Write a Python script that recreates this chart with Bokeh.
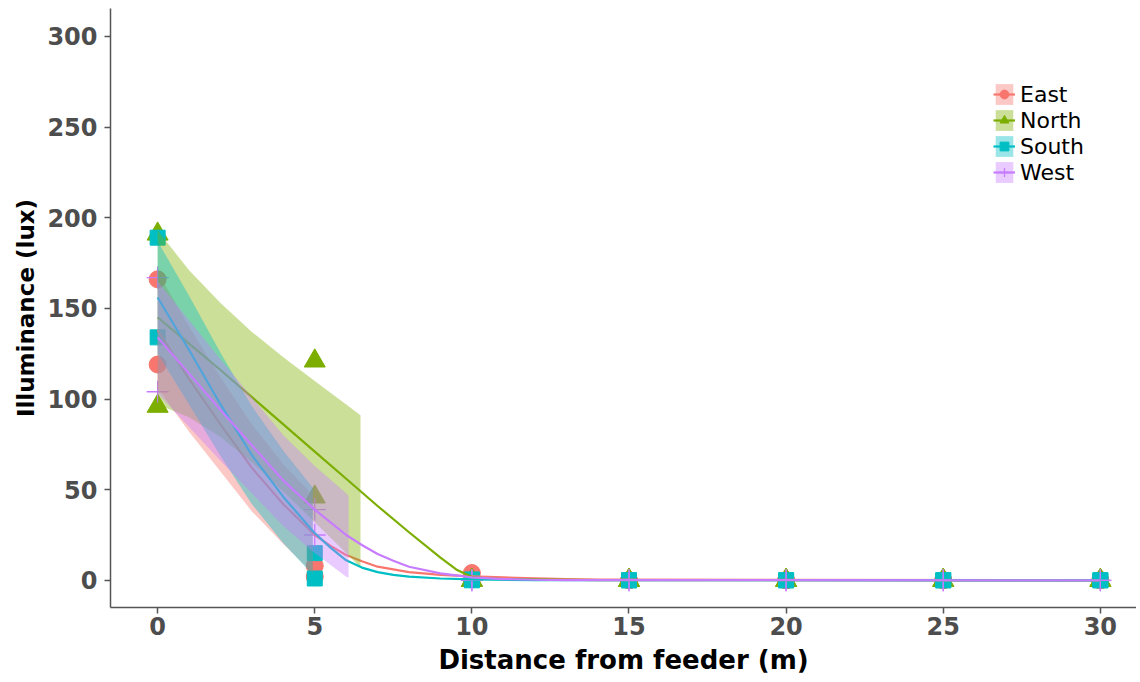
from bokeh.plotting import figure
from bokeh.models import Range1d, FixedTicker, Legend, LegendItem
from bokeh.embed import file_html
from bokeh.resources import INLINE

# ---------------- data ----------------
groups = ["East", "North", "South", "West"]
colors = ["#F8766D", "#7CAE00", "#00BFC4", "#C77CFF"]
markers = ["circle", "triangle", "square", "cross"]

distance = [0, 0, 5, 5, 10, 10, 15, 15, 20, 20, 25, 25, 30, 30]
east_lux = [166, 119, 8, 2, 4, 0.5, 0, 0, 0, 0, 0, 0, 0, 0]
north_lux = [191, 96, 121, 46, 0, 0, 0, 0, 0, 0, 0, 0, 0, 0]
south_lux = [189, 134, 15, 1, 0.5, 0, 0, 0, 0, 0, 0, 0, 0, 0]
west_lux = [167, 104, 39, 25, 0, 0, 0, 0, 0, 0, 0, 0, 0, 0]

# fitted curves
east_fit_x = [0, 1, 2, 3, 4, 5, 5.5, 6, 6.5, 7, 8, 9, 10, 11, 12, 13, 14, 30]
east_fit_y = [138, 111, 86, 62, 42, 25, 19, 14, 10.5, 7.5, 4.5, 3, 2.2, 1.6, 1.1, 0.7, 0.4, 0]
north_fit_x = [0, 1, 2, 3, 4, 5, 6, 7, 8, 9, 9.5, 10, 10.5, 11, 12, 13, 14, 30]
north_fit_y = [145, 130.5, 116, 101, 86, 71, 56, 41, 26.5, 12.5, 6, 1.8, 0.9, 0.7, 0.5, 0.3, 0.1, 0]
south_fit_x = [0, 1, 2, 3, 4, 5, 5.5, 6, 6.5, 7, 7.5, 8, 9, 10, 12, 30]
south_fit_y = [156, 127, 97, 69, 46, 26, 18, 11, 7, 4.5, 3, 2, 1, 0.5, 0.1, 0]
west_fit_x = [0, 1, 2, 3, 4, 5, 6, 6.5, 7, 7.5, 8, 9, 10, 11, 12, 13, 30]
west_fit_y = [134, 114, 94, 74.5, 55, 39, 25, 19.5, 14.5, 10.8, 7.5, 3.8, 1.6, 0.7, 0.3, 0.1, 0]

# confidence bands
east_band_x = [0, 1, 2, 3, 4, 4.937]
east_band_lo = [106, 82, 60, 38, 20, 4]
east_band_hi = [170, 140, 112, 86, 64, 47]
north_band_x = [0, 1, 2, 3, 4, 5, 6, 6.456]
north_band_lo = [97, 90, 79, 65, 49, 32, 15, 7]
north_band_hi = [193, 171, 153, 137, 123, 110, 97, 91]
south_band_x = [0, 1, 2, 3, 4, 4.937]
south_band_lo = [125, 97, 68.5, 42, 20.5, 3]
south_band_hi = [187, 157, 125.5, 96, 71.5, 51]
west_band_x = [0, 1, 2, 3, 4, 5, 6, 6.076]
west_band_lo = [103, 84.5, 66, 48, 30, 15, 2, 1.5]
west_band_hi = [165, 143.5, 122, 101, 80, 63, 48, 46.5]

x_ticks = [0, 5, 10, 15, 20, 25, 30]
y_ticks = [0, 50, 100, 150, 200, 250, 300]

points = [east_lux, north_lux, south_lux, west_lux]
fits = [(east_fit_x, east_fit_y), (north_fit_x, north_fit_y),
        (south_fit_x, south_fit_y), (west_fit_x, west_fit_y)]
bands = [(east_band_x, east_band_lo, east_band_hi),
         (north_band_x, north_band_lo, north_band_hi),
         (south_band_x, south_band_lo, south_band_hi),
         (west_band_x, west_band_lo, west_band_hi)]

# ---------------- figure ----------------
p = figure(width=1136, height=680,
           x_range=Range1d(-1.5, 31.15), y_range=Range1d(-15, 315.4),
           output_backend="svg", toolbar_location=None,
           min_border_left=110, min_border_right=0,
           min_border_top=8, min_border_bottom=73)
p.outline_line_color = None
p.background_fill_color = "white"
p.border_fill_color = "white"
p.xgrid.visible = False
p.ygrid.visible = False

marker_sizes = {"circle": 17, "triangle": 21, "square": 15, "cross": 22}
scatter_rs = []
for g, c, m, ys in zip(groups, colors, markers, points):
    if m == "cross":
        r = p.scatter(distance, ys, marker=m, size=marker_sizes[m],
                      line_color=c, line_width=1.3)
    else:
        r = p.scatter(distance, ys, marker=m, size=marker_sizes[m],
                      fill_color=c, line_color=c)
    scatter_rs.append(r)

band_rs, line_rs = [], []
for c, (bx, lo, hi), (fx, fy) in zip(colors, bands, fits):
    br = p.varea(x=bx, y1=lo, y2=hi, fill_color=c, fill_alpha=0.4)
    lr = p.line(fx, fy, line_color=c, line_width=2.2, line_join="round")
    band_rs.append(br)
    line_rs.append(lr)

# axes
for ax in (p.xaxis[0], p.yaxis[0]):
    ax.axis_line_color = "#555555"
    ax.axis_line_width = 1.5
    ax.major_tick_line_color = "#555555"
    ax.major_tick_line_width = 1.5
    ax.major_tick_out = 6
    ax.major_tick_in = 0
    ax.minor_tick_line_color = None
    ax.major_label_text_font = "DejaVu Sans"
    ax.major_label_text_font_style = "bold"
    ax.major_label_text_font_size = "24px"
    ax.major_label_text_color = "#4D4D4D"
    ax.axis_label_text_font = "DejaVu Sans"
    ax.axis_label_text_font_style = "bold"
    ax.axis_label_text_color = "black"

p.xaxis[0].ticker = FixedTicker(ticks=x_ticks)
p.yaxis[0].ticker = FixedTicker(ticks=y_ticks)
p.xaxis[0].axis_label = "Distance from feeder (m)"
p.yaxis[0].axis_label = "Illuminance (lux)"
p.xaxis[0].axis_label_text_font_size = "26px"
p.yaxis[0].axis_label_text_font_size = "23px"
p.xaxis[0].major_label_standoff = 3
p.xaxis[0].axis_label_standoff = 7
p.yaxis[0].major_label_standoff = 7
p.yaxis[0].axis_label_standoff = 5

# legend
items = [LegendItem(label=g, renderers=[b, l, s])
         for g, b, l, s in zip(groups, band_rs, line_rs, scatter_rs)]
legend = Legend(items=items, location=(883, 422))
legend.padding = 0
legend.margin = 0
legend.spacing = 0
legend.glyph_width = 22
legend.glyph_height = 26
legend.label_height = 26
legend.label_standoff = 5
legend.label_text_font = "DejaVu Sans"
legend.label_text_font_size = "22px"
legend.label_text_color = "black"
legend.border_line_color = None
legend.background_fill_alpha = 0
p.add_layout(legend, "center")

open("out.html", "w").write(file_html(p, INLINE))
